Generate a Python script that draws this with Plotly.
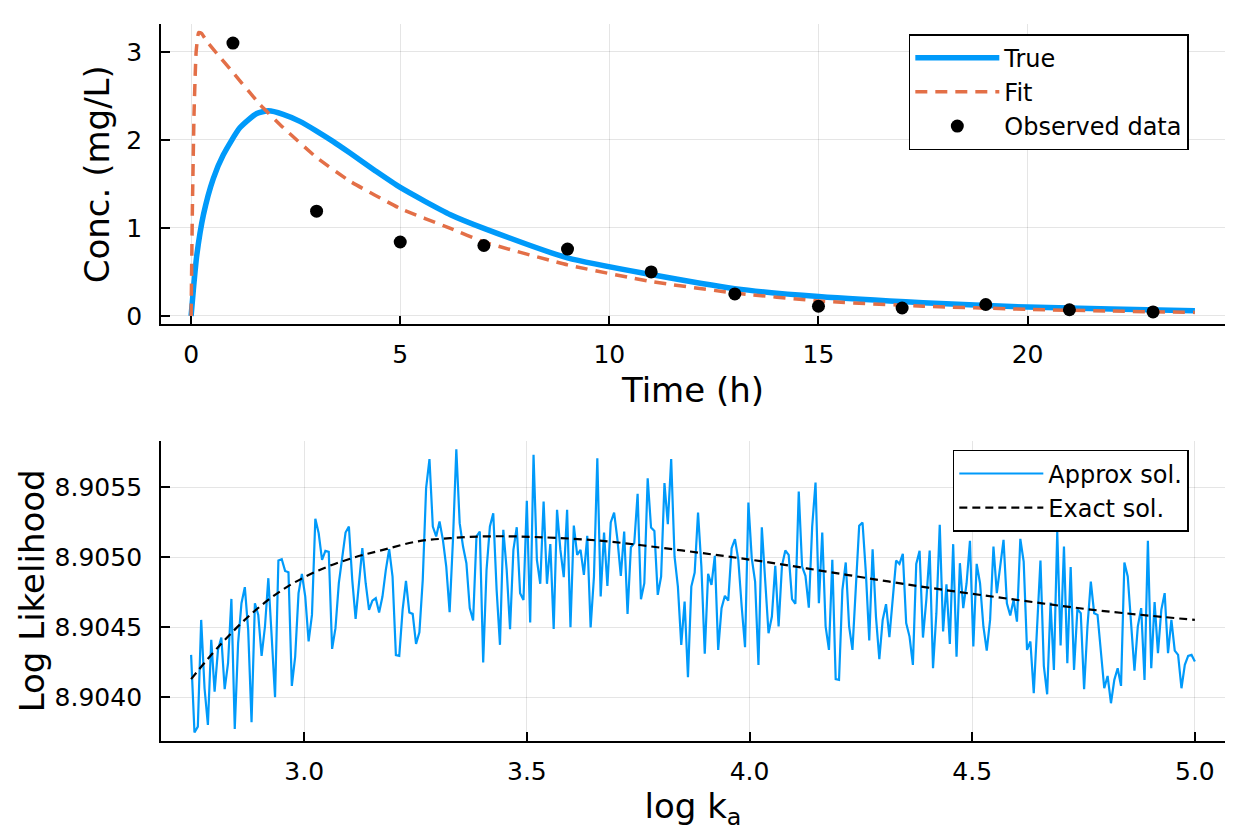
"""PK fit + log-likelihood profile, two stacked panels"""

import numpy as np
import plotly.graph_objects as go

# ---- top panel: concentration vs time ----
true_t = [0, 0.056, 0.136, 0.295, 0.53, 0.77, 1.17, 1.57, 1.85, 2.2, 2.6, 3.0, 3.4,
          3.8, 4.4, 5.0, 6.2, 7.0, 9.0, 11.0, 13.0, 15.0, 17.5, 20.0, 22.0, 24.0]
true_conc = [0, 0.31, 0.69, 1.15, 1.56, 1.83, 2.14, 2.30, 2.33, 2.29, 2.21, 2.10, 1.98,
             1.85, 1.65, 1.46, 1.15, 0.995, 0.66, 0.47, 0.31, 0.22, 0.15, 0.10, 0.08, 0.06]

fit_t = [0, 0.03, 0.07, 0.12, 0.18, 0.25, 0.375, 0.6, 1.01, 1.65, 2.2, 3.0,
         3.8, 5.0, 6.2, 7.0, 9.0, 11.0, 13.0, 15.0, 17.5, 20.0, 22.0, 24.0]
fit_conc = [0, 1.2, 2.3, 3.0, 3.22, 3.21, 3.12, 2.99, 2.76, 2.40, 2.14, 1.80,
            1.53, 1.22, 0.995, 0.84, 0.58, 0.39, 0.26, 0.17, 0.11, 0.075, 0.055, 0.04]

obs_t = [1, 3, 5, 7, 9, 11, 13, 15, 17, 19, 21, 23]
obs_conc = [3.10, 1.19, 0.84, 0.80, 0.76, 0.50, 0.25, 0.11, 0.09, 0.13, 0.07, 0.045]

time_ticks = [0, 5, 10, 15, 20]
conc_ticks = [0, 1, 2, 3]

# ---- bottom panel: log likelihood vs log ka ----
LOGKA_START = 2.746
LOGKA_END = 5.0

ll_approx = [
    8.904302, 8.903748, 8.903790, 8.904552, 8.904064, 8.903802, 8.904410, 8.904040,
    8.904338, 8.904426, 8.904057, 8.904243, 8.904702, 8.903774, 8.904386, 8.904671,
    8.904786, 8.904481, 8.903821, 8.904671, 8.904588, 8.904295, 8.904505, 8.904850,
    8.904433, 8.904000, 8.904976, 8.904986, 8.904902, 8.904893, 8.904081, 8.904290,
    8.904743, 8.904881, 8.904719, 8.904398, 8.904588, 8.905274, 8.905171, 8.904981,
    8.905045, 8.905038, 8.904345, 8.904493, 8.904814, 8.904981, 8.905176, 8.905219,
    8.904838, 8.904560, 8.904790, 8.905064, 8.904814, 8.904624, 8.904690, 8.904707,
    8.904605, 8.904719, 8.904910, 8.905057, 8.904862, 8.904300, 8.904295, 8.904624,
    8.904831, 8.904605, 8.904595, 8.904381, 8.904464, 8.904838, 8.905493, 8.905700,
    8.905219, 8.905148, 8.905255, 8.905124, 8.904933, 8.904607, 8.905124, 8.905771,
    8.905243, 8.905076, 8.904957, 8.904636, 8.904548, 8.905148, 8.905183, 8.904248,
    8.904910, 8.905219, 8.905314, 8.904767, 8.904374, 8.905195, 8.904910, 8.904486,
    8.905052, 8.905214, 8.904743, 8.904695, 8.905402, 8.904533, 8.905731, 8.904981,
    8.904810, 8.905398, 8.904810, 8.905093, 8.904488, 8.905338, 8.905052, 8.904857,
    8.905338, 8.904500, 8.905226, 8.905017, 8.905052, 8.904874, 8.905152, 8.904498,
    8.904862, 8.905707, 8.904719, 8.905176, 8.904795, 8.905248, 8.905319, 8.905124,
    8.904867, 8.905183, 8.904595, 8.905071, 8.905100, 8.905452, 8.904700, 8.904814,
    8.905564, 8.905212, 8.905188, 8.904731, 8.904862, 8.905529, 8.905236, 8.905700,
    8.905005, 8.904790, 8.904374, 8.904683, 8.904143, 8.904790, 8.904890, 8.905319,
    8.904933, 8.904310, 8.904881, 8.904802, 8.905010, 8.904338, 8.904636, 8.904724,
    8.904690, 8.905064, 8.905129, 8.904981, 8.904648, 8.904357, 8.905390, 8.904993,
    8.904826, 8.904231, 8.905214, 8.904862, 8.904457, 8.904576, 8.904938, 8.904505,
    8.904938, 8.905048, 8.905017, 8.904700, 8.904667, 8.905469, 8.904933, 8.904867,
    8.904640, 8.905219, 8.905533, 8.904671, 8.905176, 8.904505, 8.904338, 8.904981,
    8.904129, 8.904124, 8.904767, 8.904962, 8.904505, 8.904338, 8.904767, 8.905224,
    8.905248, 8.904886, 8.904405, 8.905057, 8.904576, 8.904271, 8.904552, 8.904664,
    8.904429, 8.904719, 8.904976, 8.904952, 8.905024, 8.904529, 8.904433, 8.904231,
    8.904952, 8.905045, 8.904426, 8.904695, 8.905048, 8.904207, 8.904600, 8.905231,
    8.904469, 8.904807, 8.904381, 8.905093, 8.904290, 8.904957, 8.904636, 8.904814,
    8.905117, 8.904362, 8.904952, 8.904814, 8.904505, 8.904333, 8.904552, 8.905076,
    8.904743, 8.904933, 8.905124, 8.904671, 8.904583, 8.904695, 8.904540, 8.905131,
    8.904969, 8.904338, 8.904398, 8.904029, 8.904505, 8.904976, 8.904224, 8.904021,
    8.904676, 8.904195, 8.905183, 8.904369, 8.905076, 8.904243, 8.904929, 8.904195,
    8.904629, 8.904600, 8.904057, 8.904505, 8.904826, 8.904600, 8.904588, 8.904314,
    8.904064, 8.904152, 8.903957, 8.904124, 8.904207, 8.904081, 8.904962, 8.904862,
    8.904505, 8.904190, 8.904505, 8.904636, 8.904124, 8.905117, 8.904207, 8.904679,
    8.904314, 8.904624, 8.904743, 8.904314, 8.904552, 8.904333, 8.904302, 8.904064,
    8.904231, 8.904295, 8.904302, 8.904255,
]

exact_logka = [2.746, 2.808, 2.883, 2.957, 3.032, 3.107, 3.177, 3.253, 3.328, 3.402,
               3.477, 3.660, 3.848, 4.030, 4.218, 4.401, 4.589, 4.771, 5.0]
ll_exact = [8.904129, 8.904362, 8.904600, 8.904779, 8.904905, 8.904993, 8.905052,
            8.905112, 8.905136, 8.905148, 8.905148, 8.905119, 8.905048, 8.904969,
            8.904874, 8.904783, 8.904700, 8.904624, 8.904552]

logka_ticks = [3.0, 3.5, 4.0, 4.5, 5.0]
ll_ticks = [8.9040, 8.9045, 8.9050, 8.9055]

BLUE = "#009AFA"
ORANGE = "#E36F47"
FONT = "DejaVu Sans"


def padded(lo, hi, frac=0.03):
    """axis range with a small margin like Plots.jl"""
    d = (hi - lo) * frac
    return [lo - d, hi + d]


logka = np.linspace(LOGKA_START, LOGKA_END, len(ll_approx))

fig = go.Figure()

fig.add_trace(go.Scatter(
    x=true_t, y=true_conc, mode="lines", name="True",
    line=dict(color=BLUE, width=5.5, shape="spline", smoothing=0.6),
    xaxis="x", yaxis="y", legend="legend",
))
fig.add_trace(go.Scatter(
    x=fit_t, y=fit_conc, mode="lines", name="Fit",
    line=dict(color=ORANGE, width=3.5, dash="12px,8px", shape="spline", smoothing=0.4),
    xaxis="x", yaxis="y", legend="legend",
))
fig.add_trace(go.Scatter(
    x=obs_t, y=obs_conc, mode="markers", name="Observed data",
    marker=dict(color="black", size=13),
    xaxis="x", yaxis="y", legend="legend",
))
fig.add_trace(go.Scatter(
    x=logka, y=ll_approx, mode="lines", name="Approx sol.",
    line=dict(color=BLUE, width=2.2),
    xaxis="x2", yaxis="y2", legend="legend2",
))
fig.add_trace(go.Scatter(
    x=exact_logka, y=ll_exact, mode="lines", name="Exact sol.",
    line=dict(color="black", width=2.2, dash="8px,5px", shape="spline"),
    xaxis="x2", yaxis="y2", legend="legend2",
))

axis_common = dict(
    showline=True, linecolor="black", linewidth=1.8,
    ticks="inside", ticklen=9, tickwidth=1.8, tickcolor="black",
    showgrid=True, gridcolor="rgba(0,0,0,0.10)", gridwidth=1,
    zeroline=False, mirror=False,
    tickfont=dict(family=FONT, size=25, color="black"),
)
title_font = dict(family=FONT, size=34, color="black")
legend_common = dict(
    xanchor="right", yanchor="top",
    bgcolor="white", bordercolor="black", borderwidth=1.5,
    font=dict(family=FONT, size=24, color="black"),
    itemwidth=84, tracegroupgap=0,
)

# page body has an 8px margin, so the figure is drawn 8px in and down
fig.update_layout(
    width=1242, height=825,
    margin=dict(l=153, r=25, t=16, b=92),
    paper_bgcolor="white", plot_bgcolor="white",
    font=dict(family=FONT, color="black"),
    xaxis=dict(
        axis_common, domain=[0, 1], anchor="y",
        range=padded(0, 24), tickvals=time_ticks,
        ticklabelstandoff=7,
        title=dict(text="Time (h)", font=title_font, standoff=10),
    ),
    yaxis=dict(
        axis_common, domain=[0.581, 1], anchor="x",
        range=padded(0, max(fit_conc)), tickvals=conc_ticks,
        ticklabelstandoff=12,
        title=dict(text="Conc. (mg/L)", font=title_font, standoff=6),
    ),
    xaxis2=dict(
        axis_common, domain=[0, 1], anchor="y2",
        range=padded(LOGKA_START, LOGKA_END), tickvals=logka_ticks,
        tickformat=".1f", ticklabelstandoff=7,
        title=dict(text="log k<sub>a</sub>", font=title_font, standoff=8),
    ),
    yaxis2=dict(
        axis_common, domain=[0, 0.4188], anchor="x2",
        range=padded(min(ll_approx), max(ll_approx)), tickvals=ll_ticks,
        tickformat=".4f", ticklabelstandoff=12,
        title=dict(text="Log Likelihood", font=title_font, standoff=0),
    ),
    legend=dict(legend_common, x=0.966, y=0.986),
    legend2=dict(legend_common, x=0.966, y=0.406),
)

fig.write_html("out.html")
